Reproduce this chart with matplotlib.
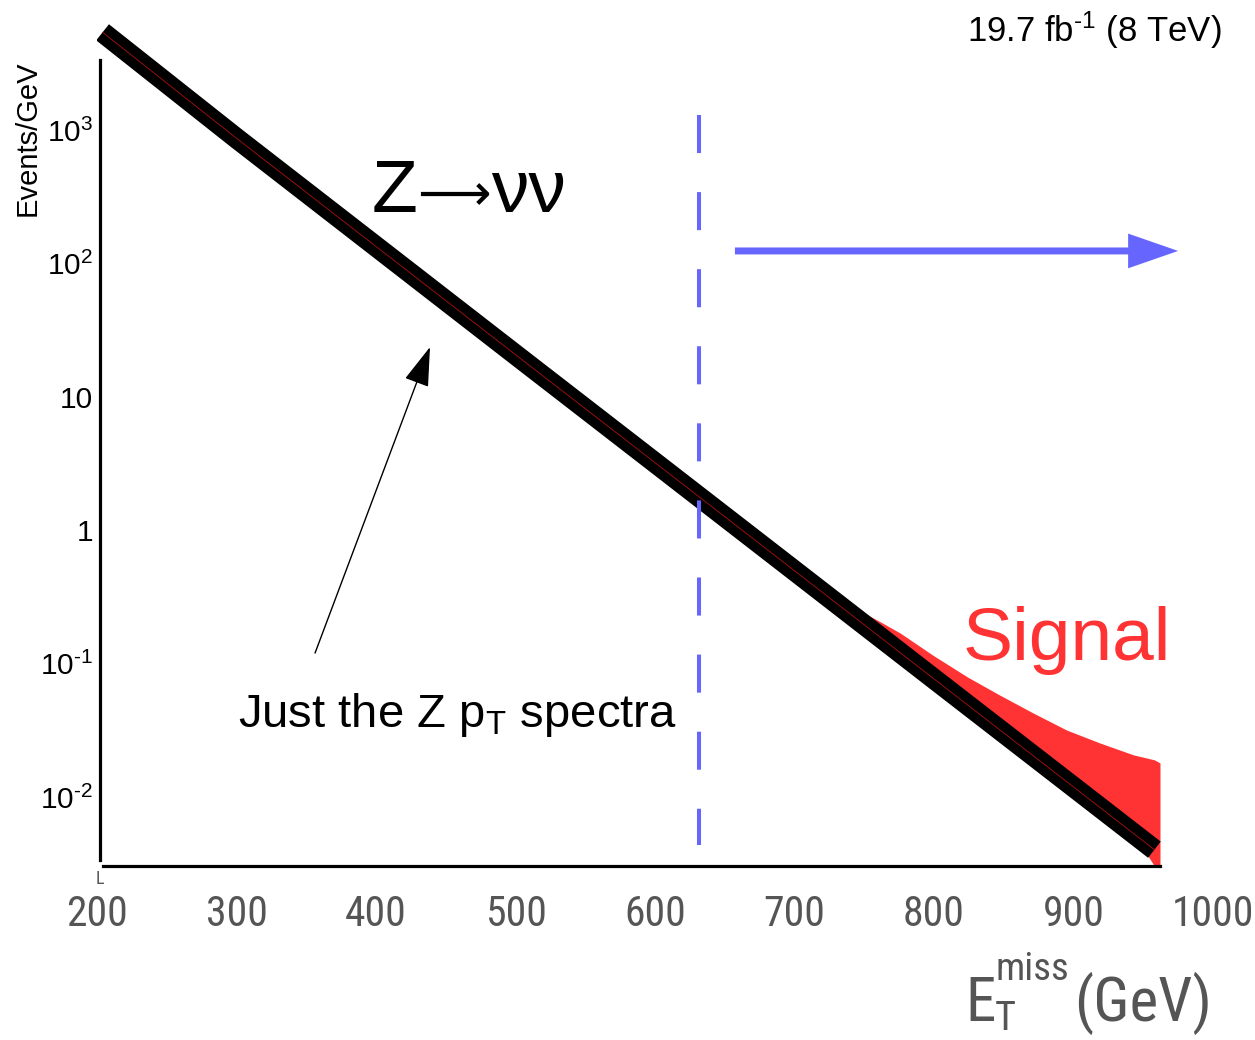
import os
import numpy as np
import matplotlib
matplotlib.use("Agg")
import matplotlib.pyplot as plt
from matplotlib import font_manager as fm
from matplotlib.ticker import NullLocator

# ---------------- data ----------------
bg_x = [204, 300, 400, 500, 600, 700, 800, 900, 958]
bg_y = [5400, 867, 134, 20.7, 3.21, 0.497, 0.0768, 0.0119, 0.00403]

sig_x = [738, 742, 760, 776, 799, 824, 847, 871, 895, 919, 943, 958, 962]
sig_top = [0.23, 0.265, 0.21, 0.169, 0.116, 0.0794, 0.0582, 0.0427, 0.0318, 0.0254, 0.0207,
           0.0190, 0.0180]

cut_x = 631.5
cut_y = [1295, 0.00437]
arrow_x = [657.3, 975.0]
arrow_y = 124

xtick_vals = [200, 300, 400, 500, 600, 700, 800, 900, 1000]
xtick_labels = ["200", "300", "400", "500", "600", "700", "800", "900", "1000"]
ytick_vals = [1e-2, 1e-1, 1, 10, 1e2, 1e3]
ytick_labels = ["10$^{\\text{-}2}$", "10$^{\\text{-}1}$", "1", "10", "10$^{2}$", "10$^{3}$"]

# ---------------- fonts ----------------
plt.rcParams["font.family"] = ["Liberation Sans", "DejaVu Sans"]
plt.rcParams["mathtext.fontset"] = "custom"
plt.rcParams["mathtext.rm"] = "Liberation Sans"
plt.rcParams["mathtext.it"] = "Liberation Sans:italic"
plt.rcParams["mathtext.bf"] = "Liberation Sans:bold"
plt.rcParams["lines.scale_dashes"] = False


def pick_narrow():
    entries = fm.fontManager.ttflist
    prefs = ["Liberation Sans Narrow", "Roboto Condensed", "Open Sans Condensed",
             "Noto Sans Condensed", "DejaVu Sans Condensed"]
    for p in prefs:
        for f in entries:
            if f.name == p and f.style == "normal" and str(f.weight) in ("400", "normal", "regular"):
                return fm.FontProperties(fname=f.fname)
    bad = ("bold", "italic", "oblique", "mono", "serif", "light", "thin", "black",
           "medium", "semibold", "extrabold", "cjk")
    cands = []
    for f in entries:
        b = os.path.basename(f.fname).lower()
        if ("condensed" in b or "narrow" in b) and not any(k in b for k in bad):
            rank = 0 if "liberation" in b else 1 if "roboto" in b else 2 if "dejavu" in b else 3
            cands.append((rank, f.fname))
    if cands:
        cands.sort()
        return fm.FontProperties(fname=cands[0][1])
    return fm.FontProperties(family="Liberation Sans")


narrow = pick_narrow()

GRAY = "#555555"
RED = "#ff3333"
BLUE = "#6666ff"

W, H = 1255, 1040
fig = plt.figure(figsize=(W / 100, H / 100), dpi=100)
fig.patch.set_facecolor("white")


def fx(px):
    return px / W


def fy(py):
    return 1 - py / H


# axes: x=200 at px 97, x=1000 at px 1213; y pixel 20..870
ax = fig.add_axes([97 / W, (H - 870) / H, 1116 / W, 850 / H])
ax.set_yscale("log")
ax.set_xlim(200, 1000)
y_floor = 10 ** -2.517
ax.set_ylim(10 ** -2.547, 10 ** 3.8246)

for s in ["top", "right"]:
    ax.spines[s].set_visible(False)
ax.spines["left"].set_position(("data", 202.2))
ax.spines["left"].set_bounds(10 ** -2.472, 10 ** 3.525)
ax.spines["left"].set_linewidth(2.3)
ax.spines["bottom"].set_position(("data", y_floor))
ax.spines["bottom"].set_bounds(204.3, 962)
ax.spines["bottom"].set_linewidth(2.3)

ax.yaxis.set_minor_locator(NullLocator())
ax.set_yticks(ytick_vals, labels=ytick_labels)
ax.set_xticks(xtick_vals, labels=xtick_labels)
ax.tick_params(which="both", length=0)
ax.tick_params(axis="y", pad=5, labelsize=21.5, labelcolor="black")
ax.tick_params(axis="x", pad=20, labelcolor=GRAY)
for lab in ax.get_xticklabels():
    lab.set_fontproperties(narrow)
    lab.set_fontsize(30)
    lab.set_color(GRAY)

# signal fill (reaches down to the axis past the end of the background line)
lx = np.log10(np.array(bg_y))
sig_low = 10 ** np.interp(sig_x, bg_x, lx)
sig_low = np.where(np.array(sig_x) >= bg_x[-1], y_floor, sig_low)
ax.fill_between(sig_x, sig_low, sig_top, color=RED, lw=0, zorder=2)

# background line
ax.plot(bg_x, bg_y, color="black", lw=14.8, solid_capstyle="butt", zorder=3)
ax.plot(bg_x, bg_y, color="#b01010", lw=0.6, zorder=3.5)

# cut line
ax.plot([cut_x, cut_x], cut_y, color=BLUE, lw=2.9, dashes=(27.4, 28.1), zorder=4)

# blue arrow
ax.annotate("", xy=(arrow_x[1], arrow_y), xytext=(arrow_x[0], arrow_y),
            arrowprops=dict(arrowstyle="simple,head_length=3.6,head_width=2.5,tail_width=0.5",
                            mutation_scale=10, color=BLUE, lw=0, shrinkA=0, shrinkB=0),
            zorder=5)

# black annotation arrow
ax.annotate("", xy=(438.7, 23.6), xytext=(356.3, 0.12),
            arrowprops=dict(arrowstyle="-|>,head_length=2.5,head_width=0.8",
                            mutation_scale=10, color="black", lw=1.0,
                            shrinkA=0, shrinkB=0),
            zorder=5)

# Z -> nu nu, built from pieces
fig.text(fx(372), fy(212), "Z", fontsize=54, va="baseline", ha="left")
fig.text(fx(454), fy(210), "\u27f6", fontsize=37, va="baseline", ha="center",
         family=["DejaVu Sans"])
fig.text(fx(491), fy(212), "\u03bd\u03bd", fontsize=54, va="baseline", ha="left")

ax.text(820.8, 0.106, "Signal", fontsize=54, color=RED, va="baseline", ha="left", zorder=6)
ax.text(301, 0.0335, "Just the Z p$_{\\mathrm{T}}$ spectra", fontsize=34,
        va="baseline", ha="left", zorder=6)

fig.text(fx(1222), fy(42), "19.7 fb$^{\\text{-}1}$ (8 TeV)", ha="right",
         va="baseline", fontsize=25)
fig.text(fx(28), fy(138), "Events/GeV", rotation=90, ha="center",
         va="center", fontsize=21)

# small grey mark under the y axis
fig.text(fx(100), fy(884), "L", fontproperties=narrow, fontsize=13,
         color=GRAY, ha="center", va="baseline")

# x axis label pieces
fig.text(fx(965), fy(1021), "E", fontproperties=narrow, fontsize=44,
         color=GRAY, ha="left", va="baseline")
fig.text(fx(996), fy(980), "miss", fontproperties=narrow, fontsize=28,
         color=GRAY, ha="left", va="baseline")
fig.text(fx(995), fy(1030), "T", fontproperties=narrow, fontsize=29,
         color=GRAY, ha="left", va="baseline")
fig.text(fx(1212), fy(1021), "(GeV)", fontproperties=narrow, fontsize=44,
         color=GRAY, ha="right", va="baseline")

fig.savefig("out.png", dpi=100, facecolor="white")
